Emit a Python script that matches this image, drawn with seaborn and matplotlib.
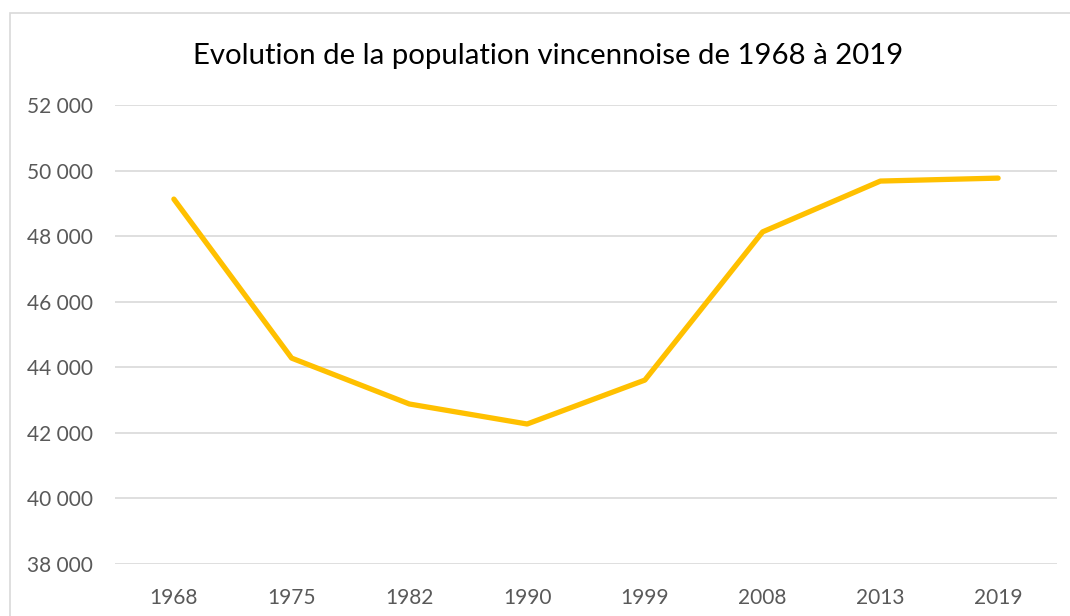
import pandas as pd
import matplotlib.pyplot as plt
import seaborn as sns
from matplotlib.patches import Rectangle
from matplotlib.ticker import FuncFormatter

IMAGE_DPI = 100

years = ['1968', '1975', '1982', '1990', '1999', '2008', '2013', '2019']
population = [49130, 44280, 42880, 42270, 43610, 48130, 49680, 49770]

sns.set_style('white')
plt.rcParams['font.family'] = ['Lato', 'DejaVu Sans']

df = pd.DataFrame({'year': years, 'population': population})

fig = plt.figure(figsize=(10.7, 6.16), dpi=IMAGE_DPI)
ax = fig.add_axes([115 / 1070, 1 - 564 / 616, 942 / 1070, 459 / 616])

sns.lineplot(data=df, x='year', y='population', color='#FFC000',
             linewidth=3.8, ax=ax, solid_capstyle='round')

ax.set_ylim(38000, 52000)
ax.set_xlim(-0.5, len(years) - 0.5)
ax.set_yticks(range(38000, 52001, 2000))
ax.yaxis.set_major_formatter(FuncFormatter(lambda v, p: f'{int(v):,}'.replace(',', ' ')))
ax.grid(axis='y', color='#d9d9d9', linewidth=1.2)
ax.set_axisbelow(True)
for s in ax.spines.values():
    s.set_visible(False)
ax.tick_params(axis='both', length=0, labelsize=15, colors='#595959')
ax.tick_params(axis='y', pad=16)
ax.tick_params(axis='x', pad=17)
ax.set_xlabel('')
ax.set_ylabel('')

fig.text(548 / 1070, 1 - 56 / 616, 'Evolution de la population vincennoise de 1968 à 2019',
         ha='center', va='center', fontsize=21.2, color='black')

fig.patches.append(Rectangle((10 / 1070, -0.1), 1.2, 1 - 13 / 616 + 0.1,
                             transform=fig.transFigure, fill=False,
                             edgecolor='#d9d9d9', linewidth=1.2))

plt.savefig('out.png', dpi=IMAGE_DPI)
plt.close()
